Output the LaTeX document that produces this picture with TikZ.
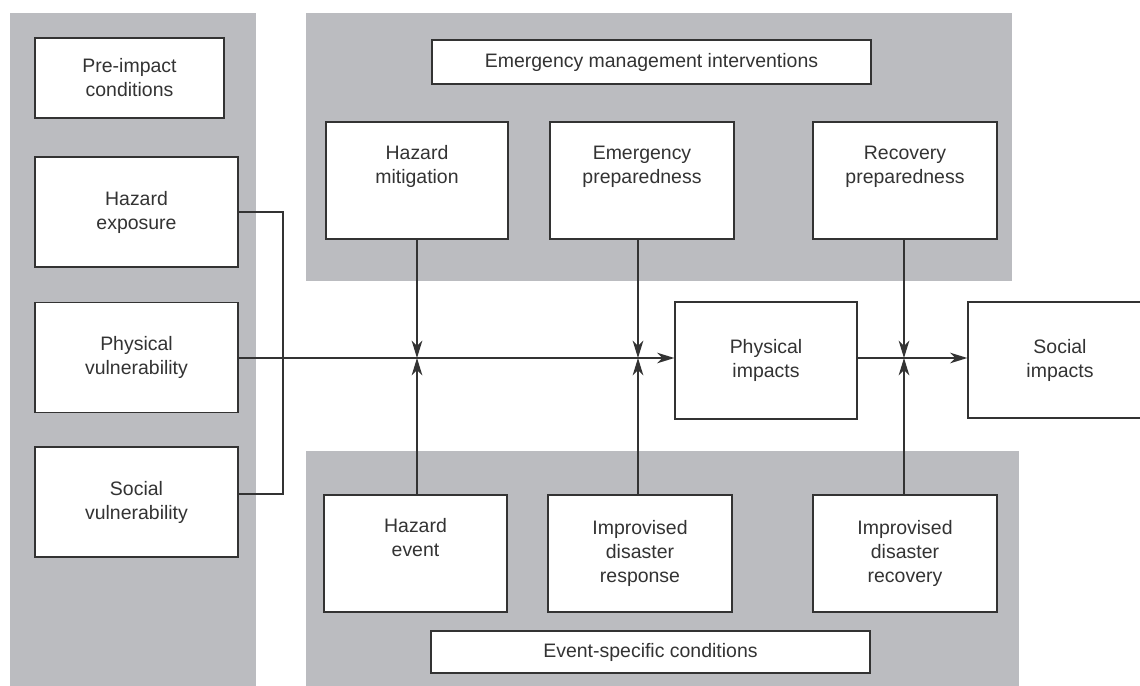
\documentclass[tikz,border=0pt]{standalone}
\usepackage{fontspec}
\setmainfont{Liberation Sans}
\usetikzlibrary{arrows.meta}
\definecolor{panelgray}{HTML}{BBBCC0}
\definecolor{ink}{HTML}{333333}
\begin{document}
\begin{tikzpicture}[x=0.75pt,y=-0.75pt,
  panel/.style={fill=panelgray,draw=none},
  box/.style 2 args={draw=ink,line width=1pt,fill=white,inner sep=0pt,
    minimum width=#1*0.75pt,minimum height=#2*0.75pt,align=center,
    text=ink,font=\fontsize{14.6}{18}\selectfont},
  link/.style={draw=ink,line width=1pt},
  arr/.style={link,-{Stealth[length=13pt,width=8pt,inset=4pt]}}]
\useasboundingbox (0,0) rectangle (1140,686);
\clip (0,0) rectangle (1140,686);

% shaded groups
\fill[panel] (10,13) rectangle (256,686);
\fill[panel] (306,13) rectangle (1012,281);
\fill[panel] (306,451) rectangle (1019,686);

% pre-impact conditions
\node[box={189}{80}] (pre) at (129.5,78) {Pre-impact\\conditions};
\node[box={203}{110}] (hexp) at (136.5,212) {Hazard\\exposure};
\node[box={203}{110}] (phys) at (136.5,357.5) {Physical\\vulnerability};
\node[box={203}{110}] (svul) at (136.5,502) {Social\\vulnerability};

% emergency management interventions
\node[box={439}{44}] (emi) at (651.5,62) {Emergency management interventions};
\node[box={182}{117}] (hmit) at (417,180.5) {Hazard\\mitigation\\\strut};
\node[box={184}{117}] (eprep) at (642,180.5) {Emergency\\preparedness\\\strut};
\node[box={184}{117}] (rprep) at (905,180.5) {Recovery\\preparedness\\\strut};

% impacts
\node[box={182}{117}] (pimp) at (766,360.5) {Physical\\impacts};
\node[box={184}{116}] (simp) at (1060,360) {Social\\impacts};

% event-specific conditions
\node[box={183}{117}] (hev) at (415.5,553.5) {Hazard\\event\\\strut};
\node[box={184}{117}] (idr) at (640,553.5) {Improvised\\disaster\\response};
\node[box={184}{117}] (idrec) at (905,553.5) {Improvised\\disaster\\recovery};
\node[box={439}{42}] (esc) at (650.5,652) {Event-specific conditions};

% junction points on the main flow line
\coordinate (j1) at (417,358);
\coordinate (j2) at (638,358);
\coordinate (j3) at (904,358);
\coordinate (bx) at (283,212);
\coordinate (by) at (283,494);

% bracket joining hazard exposure and social vulnerability
\draw[link] (hexp.east |- bx) -- (bx) -- (by) -- (svul.east |- by);

% main flow
\draw[arr] (phys.east |- j1) -- (pimp.west |- j1);
\draw[arr] (pimp.east |- j3) -- (simp.west |- j3);

% interventions and conditions acting on the flow
\draw[arr] (hmit.south -| j1) -- (j1);
\draw[arr] (hev.north -| j1) -- (j1);
\draw[arr] (eprep.south -| j2) -- (j2);
\draw[arr] (idr.north -| j2) -- (j2);
\draw[arr] (rprep.south -| j3) -- (j3);
\draw[arr] (idrec.north -| j3) -- (j3);
\end{tikzpicture}
\end{document}
